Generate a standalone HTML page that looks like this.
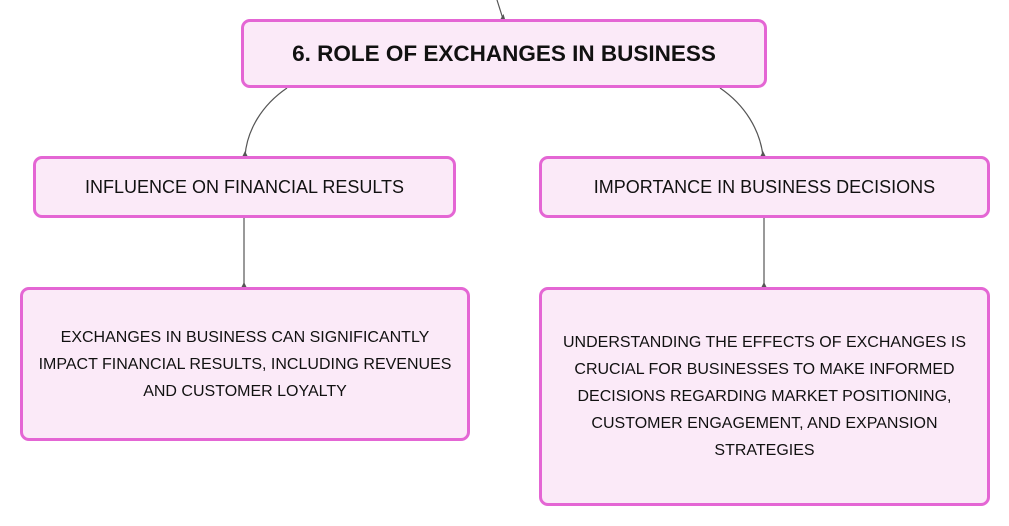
<!DOCTYPE html>
<html><head><style>
body{margin:0;width:1009px;height:526px;background:#fff;position:relative;overflow:hidden;font-family:"Liberation Sans",sans-serif;}
.b{position:absolute;box-sizing:border-box;border:3px solid #e466d4;border-radius:9px;background:#fbeaf8;display:flex;align-items:center;justify-content:center;text-align:center;color:#111;}
svg{position:absolute;left:0;top:0}
</style></head><body>
<svg width="1009" height="526">
<g stroke="#555" stroke-width="1.2" fill="none">
<path d="M497 0 L503 19"/>
<path d="M287 88 C262 105 247 130 245 156"/>
<path d="M720 88 C745 105 760 130 763 156"/>
<path d="M244 217 V287"/>
<path d="M764 217 V287"/>
</g>
<g fill="#555">
<path d="M500.5 19 L505 19 L503.5 14 Z"/>
<path d="M242.5 156 L247.5 156 L245 151 Z"/>
<path d="M760.5 156 L765.5 156 L763 151 Z"/>
<path d="M241.5 287 L246.5 287 L244 282 Z"/>
<path d="M761.5 287 L766.5 287 L764 282 Z"/>
</g>
</svg>
<div class="b" style="left:241px;top:19px;width:526px;height:69px;font-weight:bold;font-size:22.5px;">6. ROLE OF EXCHANGES IN BUSINESS</div>
<div class="b" style="left:33px;top:156px;width:423px;height:62px;font-size:18px;">INFLUENCE ON FINANCIAL RESULTS</div>
<div class="b" style="left:539px;top:156px;width:451px;height:62px;font-size:18px;">IMPORTANCE IN BUSINESS DECISIONS</div>
<div class="b" style="left:20px;top:287px;width:450px;height:154px;font-size:16px;line-height:27px;padding:0 8px;">EXCHANGES IN BUSINESS CAN SIGNIFICANTLY IMPACT FINANCIAL RESULTS, INCLUDING REVENUES AND CUSTOMER LOYALTY</div>
<div class="b" style="left:539px;top:287px;width:451px;height:219px;font-size:16px;line-height:27px;padding:0 12px;">UNDERSTANDING THE EFFECTS OF EXCHANGES IS CRUCIAL FOR BUSINESSES TO MAKE INFORMED DECISIONS REGARDING MARKET POSITIONING, CUSTOMER ENGAGEMENT, AND EXPANSION STRATEGIES</div>
</body></html>
